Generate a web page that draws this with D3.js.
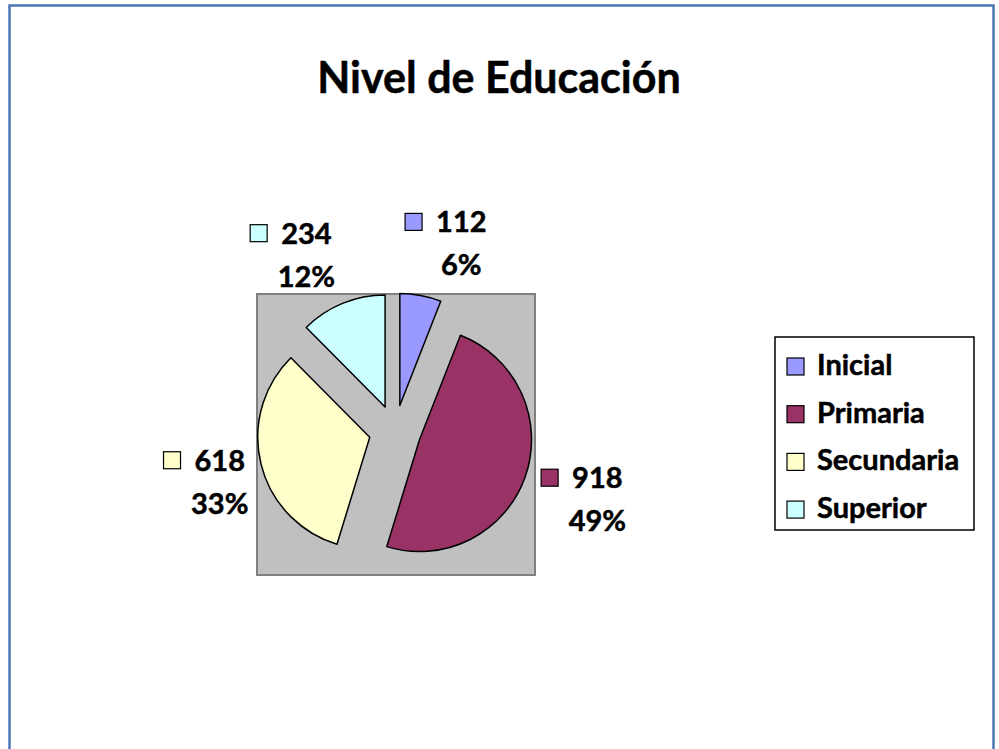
<!DOCTYPE html>
<meta charset="utf-8">
<style>

body {
  margin: 0;
  background: #fff;
}

text {
  font-family: Lato, "Open Sans", sans-serif;
  font-weight: bold;
  fill: #000;
  stroke: #000;
  stroke-width: 0.5px;
}

</style>
<body>
<script src="https://d3js.org/d3.v7.min.js"></script>
<script>

var categories = ["Inicial", "Primaria", "Secundaria", "Superior"],
    values = [112, 918, 618, 234],
    colors = ["#9999ff", "#993366", "#ffffcc", "#ccffff"];

var width = 999,
    height = 749;

// plot area (grey box) and pie geometry
var plot = {x: 257, y: 294, w: 278, h: 281},
    cx = 395,
    cy = 431,
    radius = 112,
    explode = 26;

var svg = d3.select("body").append("svg")
    .attr("width", width)
    .attr("height", height);

// chart frame
svg.append("rect")
    .attr("x", 9.5)
    .attr("y", 5.5)
    .attr("width", 984)
    .attr("height", 800)
    .attr("fill", "#fff")
    .attr("stroke", "#4a78b5")
    .attr("stroke-width", 2.5);

svg.append("text")
    .attr("x", 499)
    .attr("y", 93)
    .attr("text-anchor", "middle")
    .style("font-size", "43px")
    .text("Nivel de Educación");

svg.append("rect")
    .attr("x", plot.x)
    .attr("y", plot.y)
    .attr("width", plot.w)
    .attr("height", plot.h)
    .attr("fill", "#c0c0c0")
    .attr("stroke", "#808080")
    .attr("stroke-width", 2);

var total = d3.sum(values);

var pie = d3.pie()
    .sort(null)
    .value(function(d) { return d; });

var arc = d3.arc()
    .innerRadius(0)
    .outerRadius(radius);

var arcs = pie(values);

function mid(d) { return (d.startAngle + d.endAngle) / 2; }

var g = svg.append("g")
    .attr("transform", "translate(" + cx + "," + cy + ")");

g.selectAll("path")
    .data(arcs)
  .enter().append("path")
    .attr("transform", function(d) {
      var a = mid(d);
      return "translate(" + explode * Math.sin(a) + "," + -explode * Math.cos(a) + ")";
    })
    .attr("d", arc)
    .attr("fill", function(d, i) { return colors[i]; })
    .attr("stroke", "#000")
    .attr("stroke-width", 1.5)
    .attr("stroke-linejoin", "round");

// data labels: value with legend key, percent below
var fmtPct = d3.format(".0%"),
    keySize = 17,
    keyGap = 14;

var labels = g.selectAll(".label")
    .data(arcs)
  .enter().append("g")
    .attr("class", "label")
    .attr("transform", function(d) {
      var a = mid(d),
          sx = Math.sin(a),
          push = 49 * Math.min(1, 2.6 * Math.abs(sx)),
          x = 146 * sx + (sx > 0 ? push : -push) + (keySize + keyGap) / 2,
          y = -195 * Math.cos(a) + 4;
      return "translate(" + x + "," + y + ")";
    });

labels.append("text")
    .attr("class", "val")
    .attr("y", -11)
    .attr("text-anchor", "middle")
    .style("font-size", "29px")
    .text(function(d) { return d.value; });

labels.append("text")
    .attr("y", 32)
    .attr("text-anchor", "middle")
    .style("font-size", "29px")
    .text(function(d) { return fmtPct(d.value / total); });

labels.each(function(d, i) {
  var sel = d3.select(this),
      w = sel.select(".val").node().getComputedTextLength();
  sel.append("rect")
      .attr("x", -w / 2 - keyGap - keySize)
      .attr("y", -11 - 19)
      .attr("width", keySize)
      .attr("height", keySize)
      .attr("fill", colors[i])
      .attr("stroke", "#000")
      .attr("stroke-width", 1.2);
});

// legend
var legend = svg.append("g")
    .attr("transform", "translate(775,337)");

legend.append("rect")
    .attr("width", 199)
    .attr("height", 193)
    .attr("fill", "#fff")
    .attr("stroke", "#000")
    .attr("stroke-width", 1.5);

var rows = legend.selectAll(".row")
    .data(categories)
  .enter().append("g")
    .attr("class", "row")
    .attr("transform", function(d, i) { return "translate(0," + (38 + i * 47.7) + ")"; });

rows.append("rect")
    .attr("x", 12)
    .attr("y", -17)
    .attr("width", 17)
    .attr("height", 17)
    .attr("fill", function(d, i) { return colors[i]; })
    .attr("stroke", "#000")
    .attr("stroke-width", 1.2);

rows.append("text")
    .attr("x", 42)
    .style("font-size", "29px")
    .text(function(d) { return d; });

</script>
